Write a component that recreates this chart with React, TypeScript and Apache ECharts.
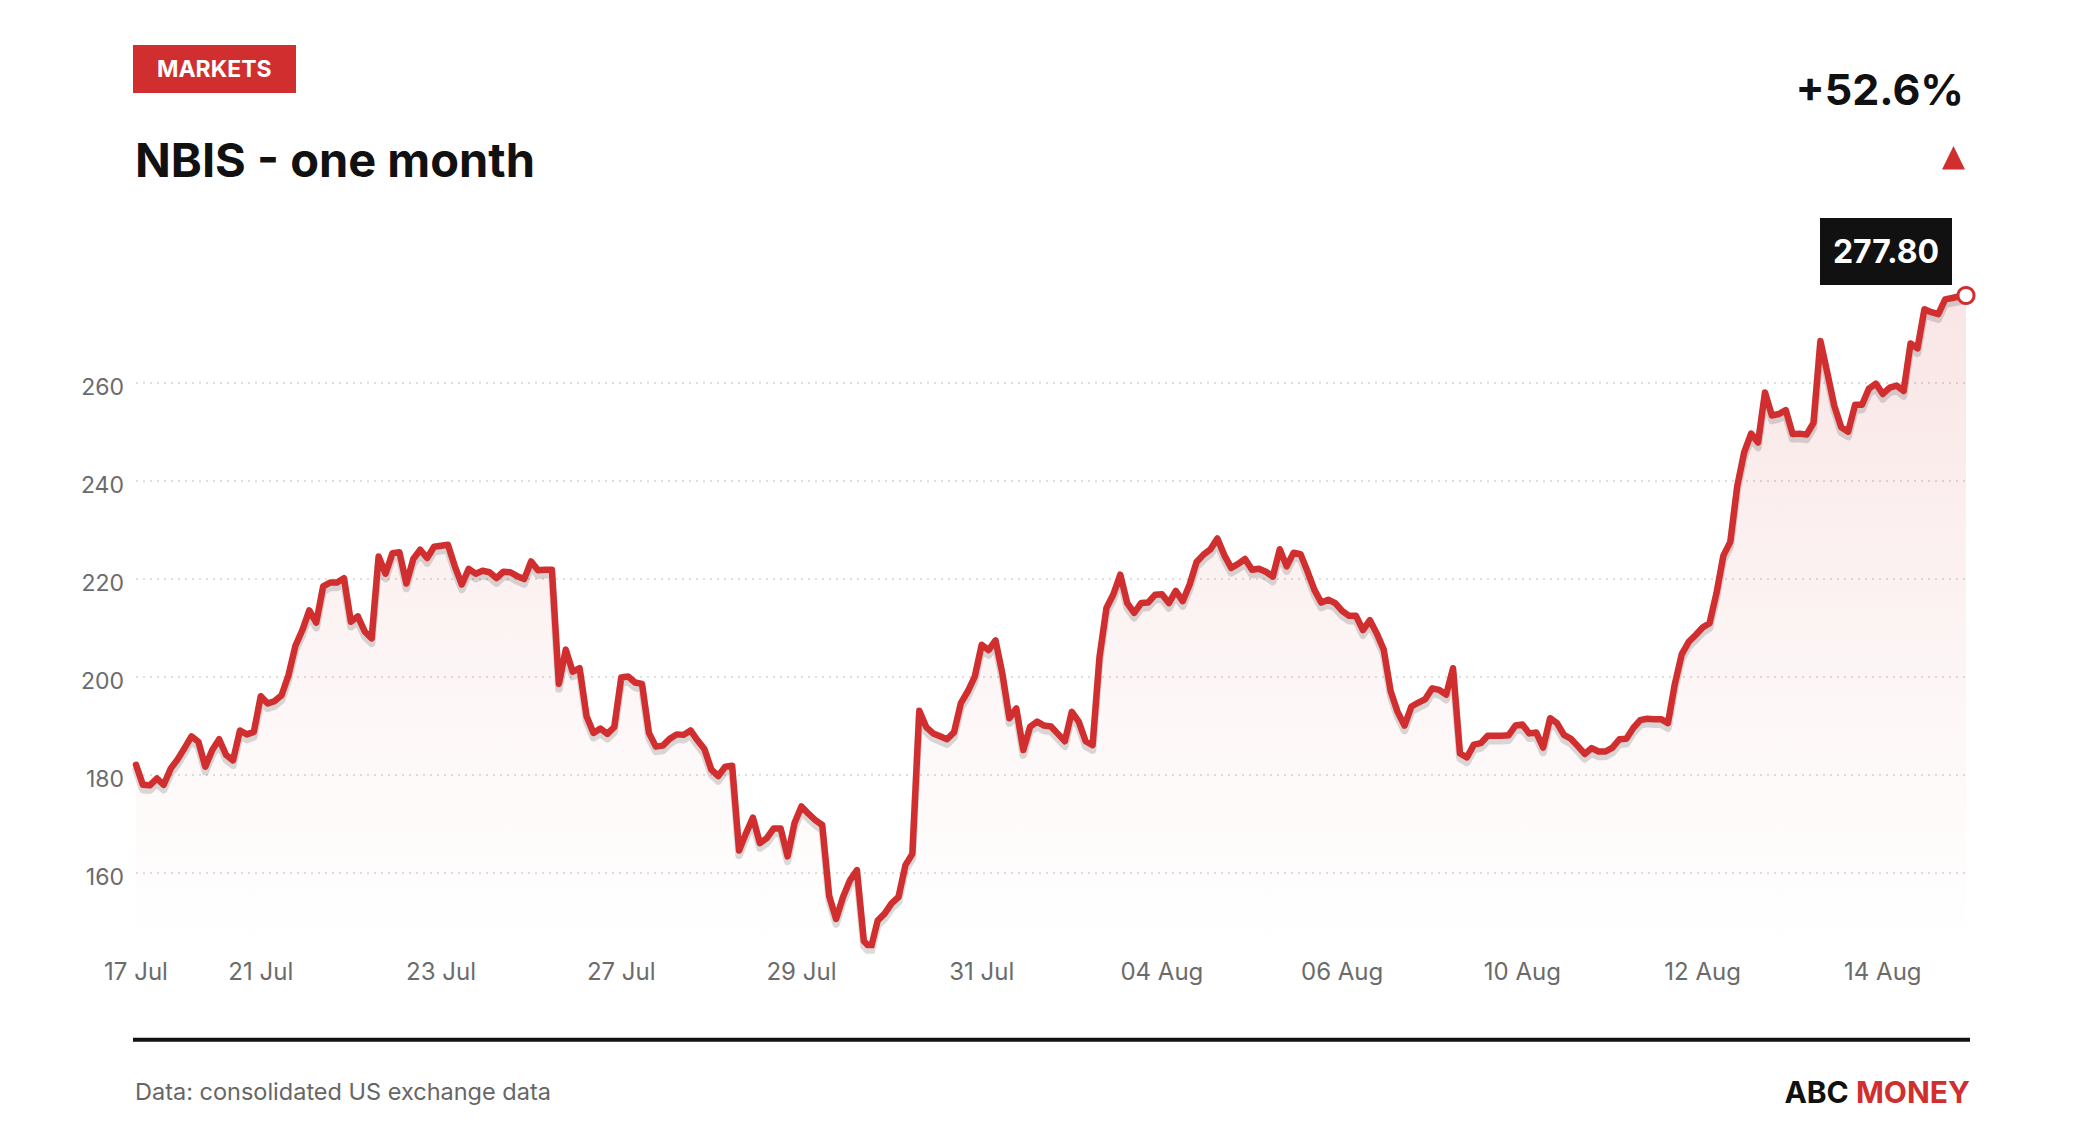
import React, { useEffect, useRef } from "react";
import * as echarts from "echarts";

// NBIS price, one point per trading slot (17 Jul – 15 Aug)
const prices: number[] = [
  182.0, 177.9, 177.8, 179.2, 177.9, 181.2, 183.1, 185.4, 187.8, 186.7,
  181.6, 185.0, 187.2, 184.0, 182.9, 189.0, 188.2, 188.7, 196.0, 194.5,
  195.0, 196.2, 200.3, 206.3, 209.5, 213.5, 211.0, 218.4, 219.2, 219.2,
  220.1, 211.2, 212.3, 209.2, 207.8, 224.5, 221.0, 225.2, 225.4, 219.0,
  224.0, 225.9, 224.2, 226.5, 226.7, 226.9, 222.5, 218.8, 222.0, 221.0,
  221.6, 221.3, 220.1, 221.4, 221.3, 220.5, 219.9, 223.5, 221.7, 221.8,
  221.8, 198.5, 205.5, 201.0, 201.7, 191.9, 188.5, 189.4, 188.3, 189.7,
  199.8, 200.0, 198.8, 198.5, 188.5, 185.7, 185.9, 187.3, 188.2, 188.1,
  189.0, 187.0, 185.2, 181.0, 179.7, 181.6, 181.8, 164.5, 168.0, 171.2,
  166.0, 167.0, 169.0, 169.0, 163.3, 170.1, 173.5, 172.0, 170.7, 169.7,
  155.2, 150.5, 155.0, 158.4, 160.5, 146.0, 144.5, 150.2, 151.6, 153.7,
  155.0, 161.5, 163.8, 193.0, 189.7, 188.4, 187.8, 187.2, 188.6, 194.6,
  197.0, 200.0, 206.5, 205.4, 207.4, 200.5, 191.5, 193.5, 185.0, 189.8,
  190.8, 190.0, 189.8, 188.3, 186.8, 192.8, 190.8, 186.8, 186.0, 204.0,
  214.0, 216.8, 220.8, 215.0, 213.0, 215.0, 215.1, 216.7, 216.8, 215.0,
  217.5, 215.4, 218.8, 223.4, 224.9, 226.0, 228.2, 224.8, 222.2, 223.0,
  224.0, 221.8, 222.0, 221.4, 220.4, 226.0, 222.5, 225.3, 225.0, 221.5,
  217.7, 215.1, 215.7, 215.0, 213.4, 212.4, 212.4, 209.5, 211.5, 208.8,
  205.5, 197.0, 192.8, 190.0, 193.9, 194.7, 195.4, 197.6, 197.3, 196.3,
  201.7, 184.3, 183.5, 186.1, 186.4, 187.9, 187.9, 187.9, 188.0, 190.0,
  190.2, 188.4, 188.6, 185.5, 191.5, 190.5, 188.1, 187.3, 185.8, 184.2,
  185.4, 184.7, 184.7, 185.5, 187.2, 187.3, 189.5, 191.1, 191.4, 191.3,
  191.3, 190.5, 198.5, 204.6, 207.1, 208.5, 210.0, 210.9, 217.0, 224.7,
  227.5, 238.9, 245.8, 249.6, 247.8, 258.0, 253.3, 253.6, 254.4, 249.5,
  249.6, 249.4, 251.8, 268.5, 262.0, 255.3, 250.9, 250.0, 255.5, 255.5,
  258.8, 259.8, 257.7, 259.0, 259.4, 258.3, 268.0, 267.0, 275.0, 274.4,
  274.0, 277.0, 277.3, 277.6, 277.8,
];

// x-axis tick labels and the slot each one sits on
const tickLabels: string[] = [
  "17 Jul", "21 Jul", "23 Jul", "27 Jul", "29 Jul", "31 Jul",
  "04 Aug", "06 Aug", "10 Aug", "12 Aug", "14 Aug",
];
const tickSlots: number[] = [0, 18, 44, 70, 96, 122, 148, 174, 200, 226, 252];

const Y_MIN = 145.2;
const RED = "#d12f2f";
const FONT = "Inter";

const categories: string[] = prices.map((_, i) => {
  let label = tickLabels[0];
  tickSlots.forEach((s, k) => {
    if (i >= s) label = tickLabels[k];
  });
  return `${label}|${i}`;
});

export default function App() {
  const ref = useRef<HTMLDivElement>(null);

  useEffect(() => {
    if (!ref.current) return;
    const chart = echarts.init(ref.current, null, { renderer: "svg" });
    const last = prices[prices.length - 1];
    const first = prices[0];
    const change = ((last / first - 1) * 100).toFixed(1);
    const yMax = Math.max(...prices);

    const lineData = prices.map((v, i) =>
      i === prices.length - 1
        ? {
            value: v,
            symbol: "circle",
            symbolSize: 16,
            itemStyle: { color: "#ffffff", borderColor: RED, borderWidth: 3 },
          }
        : v
    );

    const hiddenX = {
      type: "category",
      data: categories,
      boundaryGap: false,
      show: false,
      gridIndex: 1,
    };
    const hiddenY = { type: "value", min: Y_MIN, max: yMax, show: false, gridIndex: 1, splitLine: { show: false } };

    chart.setOption({
      animation: false,
      backgroundColor: "#ffffff",
      textStyle: { fontFamily: FONT },
      grid: [
        { left: 136, right: 114, top: 295.5, bottom: 195 },
        { left: 136, right: 114, top: 300.5, bottom: 190 },
      ],
      xAxis: [
        {
          type: "category",
          data: categories,
          boundaryGap: false,
          axisLine: { show: false },
          axisTick: { show: false },
          splitLine: { show: false },
          axisLabel: {
            interval: (index: number) => tickSlots.includes(index),
            formatter: (val: string) => val.split("|")[0],
            color: "#6b6b6b",
            fontSize: 24,
            fontFamily: FONT,
            margin: 14,
            hideOverlap: false,
          },
        },
        hiddenX,
      ],
      yAxis: [
        {
          type: "value",
          min: Y_MIN,
          max: yMax,
          splitNumber: 7,
          axisLine: { show: false },
          axisTick: { show: false },
          axisLabel: {
            formatter: "{v|{value}}",
            margin: 12,
            showMinLabel: false,
            showMaxLabel: false,
            rich: {
              v: {
                color: "#6b6b6b",
                fontSize: 23,
                fontFamily: FONT,
                padding: [8, 0, 0, 0],
              },
            },
          },
          splitLine: {
            show: true,
            showMinLine: false,
            showMaxLine: false,
            lineStyle: { color: "#dedede", width: 2, type: [2, 5] },
          },
        },
        hiddenY,
      ],
      series: [
        {
          name: "fill",
          type: "line",
          data: prices,
          symbol: "none",
          clip: true,
          z: 1,
          lineStyle: { width: 0, opacity: 0 },
          areaStyle: {
            color: new echarts.graphic.LinearGradient(0, 0, 0, 1, [
              { offset: 0, color: "rgba(209,47,47,0.18)" },
              { offset: 0.55, color: "rgba(209,47,47,0.07)" },
              { offset: 1, color: "rgba(209,47,47,0.0)" },
            ]),
          },
          emphasis: { disabled: true },
          silent: true,
        },
        {
          name: "shadow",
          type: "line",
          xAxisIndex: 1,
          yAxisIndex: 1,
          data: prices,
          symbol: "none",
          clip: true,
          z: 2,
          lineStyle: { color: "rgba(0,0,0,0.14)", width: 7.5, join: "round", cap: "round" },
          emphasis: { disabled: true },
          silent: true,
        },
        {
          name: "NBIS",
          type: "line",
          data: lineData,
          symbol: "none",
          showSymbol: true,
          showAllSymbol: true,
          clip: true,
          z: 3,
          lineStyle: { color: RED, width: 6.5, join: "round", cap: "round" },
          emphasis: { disabled: true },
        },
      ],
      graphic: [
        { type: "rect", shape: { x: 133, y: 45, width: 163, height: 48 }, style: { fill: RED } },
        {
          type: "text",
          x: 214.3,
          y: 69.3,
          style: {
            text: "MARKETS",
            fill: "#ffffff",
            fontSize: 23,
            fontWeight: 700,
            fontFamily: FONT,
            align: "center",
            verticalAlign: "middle",
          },
        },
        {
          type: "text",
          x: 135,
          y: 159.4,
          style: {
            text: "NBIS - one month",
            fill: "#111111",
            fontSize: 47,
            fontWeight: 700,
            fontFamily: FONT,
            align: "left",
            verticalAlign: "middle",
          },
        },
        {
          type: "text",
          x: 1964,
          y: 88.5,
          style: {
            text: `+${change}%`,
            fill: "#111111",
            fontSize: 43,
            fontWeight: 700,
            fontFamily: FONT,
            align: "right",
            verticalAlign: "middle",
          },
        },
        {
          type: "polygon",
          shape: { points: [[1942, 169.5], [1953.5, 146], [1965, 169.5]] },
          style: { fill: RED },
        },
        { type: "rect", shape: { x: 1820, y: 218, width: 132, height: 67 }, style: { fill: "#111111" } },
        {
          type: "text",
          x: 1886,
          y: 251.5,
          style: {
            text: last.toFixed(2),
            fill: "#ffffff",
            fontSize: 32,
            fontWeight: 700,
            fontFamily: FONT,
            align: "center",
            verticalAlign: "middle",
          },
        },
        { type: "rect", shape: { x: 133, y: 1037.7, width: 1837, height: 4 }, style: { fill: "#111111" } },
        {
          type: "text",
          x: 135,
          y: 1091,
          style: {
            text: "Data: consolidated US exchange data",
            fill: "#666666",
            fontSize: 23.5,
            fontFamily: FONT,
            align: "left",
            verticalAlign: "middle",
          },
        },
        {
          type: "text",
          x: 1970,
          y: 1092,
          style: {
            text: "{a|ABC} {b|MONEY}",
            fontSize: 30,
            fontWeight: 700,
            fontFamily: FONT,
            align: "right",
            verticalAlign: "middle",
            rich: {
              a: { fill: "#111111", fontSize: 30, fontWeight: 700, fontFamily: FONT },
              b: { fill: RED, fontSize: 30, fontWeight: 700, fontFamily: FONT },
            },
          },
        },
      ],
    });

    return () => chart.dispose();
  }, []);

  return (
    <div
      ref={ref}
      style={{ position: "fixed", left: 0, top: 0, width: 2080, height: 1140, background: "#ffffff" }}
    />
  );
}
